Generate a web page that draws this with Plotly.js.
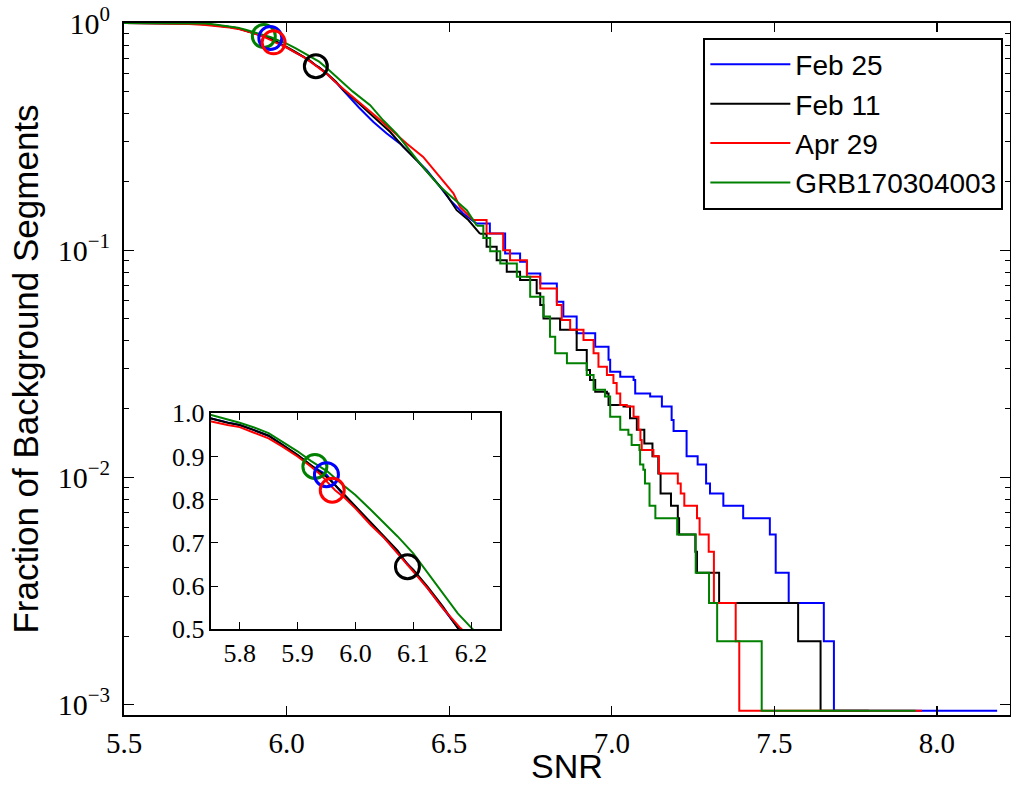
<!DOCTYPE html>
<html><head><meta charset="utf-8">
<script src="https://cdn.plot.ly/plotly-3.0.1.min.js"></script>
<style>html,body{margin:0;padding:0;background:#fff}</style>
</head><body><div id="chart" style="width:1011px;height:785px"></div>
<script>
const seriesNames = ['Feb 25', 'Feb 11', 'Apr 29', 'GRB170304003'];
const seriesColors = ['#0000ff', '#000000', '#ff0000', '#008000'];

const feb25Snr = [5.50,5.60,5.65,5.70,5.751,5.779,5.800,5.825,5.850,5.874,5.900,5.923,5.950,5.975,6.000,6.027,6.050,6.073,6.100,6.125,6.151,6.174,
  6.221,6.267,6.308,6.349,6.390,6.431,6.472,6.503,6.543,6.584,6.625,6.672,6.718,6.739,6.780,6.831,6.851,6.892,6.949,6.990,6.995,7.026,7.067,7.072,7.118,7.154,7.184,7.190,
  7.230,7.264,7.290,7.302,7.343,7.404,7.486,7.504,7.544,7.652,7.683,8.185];
const feb25Frac = [1.000,0.999,0.997,0.994,0.988,0.979,0.973,0.961,0.948,0.927,0.903,0.879,0.858,0.818,0.783,0.743,0.712,0.677,0.637,0.595,0.549,0.506,
  0.427,0.367,0.326,0.2946,0.2575,0.225,0.190,0.166,0.145,0.131,0.1185,0.0968,0.0889,0.0790,0.0714,0.0593,0.0510,0.0431,0.0376,0.0329,0.0292,0.0277,0.0268,0.0234,0.0227,0.0205,0.0179,0.0160,
  0.0124,0.0114,0.0094,0.0085,0.0075,0.0066,0.0056,0.0038,0.0028,0.0019,0.00094,0.00094];

const feb11Snr = [5.50,5.60,5.65,5.70,5.751,5.779,5.800,5.825,5.850,5.874,5.900,5.923,5.952,5.975,6.000,6.027,6.050,6.073,6.090,6.100,6.125,6.151,6.177,
  6.195,6.257,6.318,6.359,6.400,6.441,6.482,6.523,6.559,6.595,6.615,6.646,6.677,6.718,6.769,6.780,6.790,6.841,6.892,6.923,6.933,6.949,6.985,6.990,7.036,7.056,7.077,7.100,
  7.125,7.143,7.150,7.182,7.203,7.207,7.257,7.262,7.330,7.573,7.642,7.790];
const feb11Frac = [1.000,0.999,0.997,0.994,0.988,0.978,0.973,0.961,0.948,0.927,0.904,0.880,0.851,0.820,0.785,0.746,0.716,0.682,0.650,0.638,0.598,0.553,0.503,
  0.481,0.399,0.332,0.285,0.249,0.214,0.184,0.150,0.1357,0.1180,0.1035,0.0904,0.0804,0.0739,0.0646,0.0574,0.0501,0.0446,0.0364,0.0297,0.0268,0.0238,0.0234,0.0208,0.0205,0.0182,0.0162,0.0141,
  0.0124,0.0104,0.0085,0.0075,0.0066,0.0056,0.0047,0.0038,0.0028,0.0019,0.00094,0.00094];

const apr29Snr = [5.50,5.60,5.65,5.70,5.751,5.779,5.800,5.825,5.850,5.874,5.900,5.923,5.940,5.952,5.965,5.980,6.000,6.027,6.050,6.073,6.100,6.125,6.151,6.180,
  6.277,6.369,6.420,6.472,6.513,6.533,6.574,6.615,6.666,6.687,6.739,6.780,6.831,6.846,6.872,6.913,6.944,6.959,6.985,7.005,7.015,7.026,7.046,7.067,7.082,7.088,7.092,
  7.128,7.145,7.203,7.212,7.223,7.262,7.270,7.298,7.314,7.381,7.392,7.954];
const apr29Frac = [1.000,0.998,0.995,0.990,0.981,0.973,0.968,0.955,0.942,0.923,0.900,0.877,0.858,0.840,0.822,0.806,0.780,0.741,0.711,0.676,0.634,0.595,0.549,0.505,
  0.386,0.2946,0.2575,0.210,0.178,0.155,0.1357,0.1185,0.100,0.0904,0.0764,0.0679,0.0574,0.0493,0.0446,0.0402,0.0352,0.0307,0.0282,0.0260,0.0234,0.0208,0.0205,0.0185,0.0162,0.0146,0.0132,
  0.0124,0.0104,0.0094,0.0085,0.0075,0.0066,0.0056,0.0047,0.0028,0.0019,0.00094,0.00094];

const grbSnr = [5.50,5.60,5.65,5.70,5.751,5.779,5.800,5.825,5.850,5.874,5.900,5.923,5.952,5.975,6.000,6.027,6.050,6.073,6.100,6.125,6.151,6.177,6.203,
  6.257,6.297,6.338,6.374,6.410,6.441,6.472,6.513,6.554,6.585,6.605,6.626,6.657,6.708,6.749,6.790,6.810,6.826,6.862,6.923,6.944,6.979,6.995,7.026,7.051,7.061,7.085,
  7.087,7.097,7.102,7.116,7.134,7.201,7.258,7.299,7.324,7.461,7.934];
const grbFrac = [1.000,1.000,0.999,0.998,0.996,0.986,0.978,0.967,0.954,0.934,0.912,0.890,0.865,0.838,0.811,0.776,0.745,0.715,0.676,0.630,0.583,0.537,0.500,
  0.435,0.373,0.326,0.280,0.241,0.214,0.190,0.169,0.150,0.128,0.113,0.0990,0.0874,0.0764,0.0624,0.0510,0.0416,0.0352,0.0318,0.0282,0.0243,0.0227,0.0185,0.0162,0.0154,0.0139,0.0132,
  0.0114,0.0108,0.0094,0.0075,0.0066,0.0056,0.0038,0.0028,0.0019,0.00094,0.00094];

const seriesSnr = [feb25Snr, feb11Snr, apr29Snr, grbSnr];
const seriesFrac = [feb25Frac, feb11Frac, apr29Frac, grbFrac];
// SNR above which the read points are drawn as visible steps
const stepFrom = 6.6;

// on-source circles: Feb 25, Feb 11, Apr 29, GRB170304003
const markerSnr = [5.95, 6.09, 5.96, 5.93];
const markerFrac = [0.858, 0.645, 0.822, 0.877];
const markerOrder = [3, 0, 2, 1];

const mainTicks = [5.5, 6.0, 6.5, 7.0, 7.5, 8.0];
const mainTickText = ['5.5', '6.0', '6.5', '7.0', '7.5', '8.0'];
const logTicks = [0.001, 0.01, 0.1, 1];
const logTickText = ['10<sup>\u22123</sup>', '10<sup>\u22122</sup>', '10<sup>\u22121</sup>', '10<sup>0</sup>'];
const logMinor = [0.0009,0.002,0.003,0.004,0.005,0.006,0.007,0.008,0.009,0.02,0.03,0.04,0.05,0.06,0.07,0.08,0.09,0.2,0.3,0.4,0.5,0.6,0.7,0.8,0.9];
const insetXTicks = [5.8, 5.9, 6.0, 6.1, 6.2];
const insetXText = ['5.8', '5.9', '6.0', '6.1', '6.2'];
const insetYTicks = [0.5, 0.6, 0.7, 0.8, 0.9, 1.0];
const insetYText = ['0.5', '0.6', '0.7', '0.8', '0.9', '1.0'];

const traces = [];
function addSeries(i, xa, ya, legend) {
  const xs = seriesSnr[i], ys = seriesFrac[i];
  let k = 0;
  while (k + 1 < xs.length && xs[k + 1] <= stepFrom) k++;
  traces.push({x: xs.slice(0, k + 1), y: ys.slice(0, k + 1), type: 'scatter', mode: 'lines',
    line: {shape: 'linear', color: seriesColors[i], width: 2}, name: seriesNames[i], legendgroup: 'g' + i,
    showlegend: legend, xaxis: xa, yaxis: ya, hoverinfo: 'skip'});
  traces.push({x: xs.slice(k), y: ys.slice(k), type: 'scatter', mode: 'lines',
    line: {shape: 'hv', color: seriesColors[i], width: 2}, name: seriesNames[i], legendgroup: 'g' + i,
    showlegend: false, xaxis: xa, yaxis: ya, hoverinfo: 'skip'});
}
for (let i = 0; i < 4; i++) addSeries(i, 'x', 'y', true);
for (let i = 0; i < 4; i++) addSeries(i, 'x2', 'y2', false);
for (const ax of [['x', 'y', 23], ['x2', 'y2', 24]]) {
  for (const i of markerOrder) {
    traces.push({x: [markerSnr[i]], y: [markerFrac[i]], type: 'scatter', mode: 'markers', cliponaxis: false,
      marker: {symbol: 'circle-open', size: ax[2], color: seriesColors[i], line: {width: 3, color: seriesColors[i]}},
      showlegend: false, legendgroup: 'g' + i, xaxis: ax[0], yaxis: ax[1], hoverinfo: 'skip'});
  }
}

const frame = {showline: true, linecolor: 'black', linewidth: 2, mirror: 'allticks', ticks: 'inside', tickcolor: 'black',
  showgrid: false, zeroline: false};
const serif = {family: 'Liberation Serif, DejaVu Serif, serif', color: 'black'};
const sans = {family: 'Liberation Sans, Arial, sans-serif', color: 'black'};

const layout = {
  width: 1011, height: 785,
  margin: {l: 124, r: 1, t: 23, b: 70},
  paper_bgcolor: 'white', plot_bgcolor: 'white',
  showlegend: true,
  xaxis: Object.assign({}, frame, {range: [5.5, 8.2245], tickmode: 'array', tickvals: mainTicks, ticktext: mainTickText,
    ticklen: 9, tickwidth: 1.2, tickfont: Object.assign({size: 29}, serif), ticklabelstandoff: 1,
    title: {text: 'SNR', font: Object.assign({size: 34}, sans), standoff: 10}, automargin: false}),
  yaxis: Object.assign({}, frame, {type: 'log', range: [-3.046, 0], tickmode: 'array', tickvals: logTicks, ticktext: logTickText,
    ticklen: 10, tickwidth: 1.2, tickfont: Object.assign({size: 30}, serif), ticklabelstandoff: 6,
    minor: {tickmode: 'array', tickvals: logMinor, ticks: 'inside', ticklen: 5, tickwidth: 1, tickcolor: 'black', showgrid: false},
    title: {text: 'Fraction of Background Segments', font: Object.assign({size: 35}, sans), standoff: 8}, automargin: false}),
  xaxis2: Object.assign({}, frame, {domain: [0.0979, 0.4244], anchor: 'y2', range: [5.75, 6.25], tickmode: 'array',
    tickvals: insetXTicks, ticktext: insetXText, ticklen: 7, tickwidth: 1, tickfont: Object.assign({size: 26}, serif), ticklabelstandoff: -1, automargin: false}),
  yaxis2: Object.assign({}, frame, {domain: [0.1238, 0.436], anchor: 'x2', range: [0.5, 1.0], tickmode: 'array',
    tickvals: insetYTicks, ticktext: insetYText, ticklen: 7, tickwidth: 1, tickfont: Object.assign({size: 26}, serif), ticklabelstandoff: -1, automargin: false}),
  legend: {x: 0.9925, xanchor: 'right', y: 0.979, yanchor: 'top', bordercolor: 'black', borderwidth: 2, bgcolor: 'white',
    font: Object.assign({size: 28}, sans), itemwidth: 80, tracegroupgap: 0, traceorder: 'grouped'}
};

Plotly.newPlot('chart', traces, layout, {displayModeBar: false, staticPlot: true});
</script>
</body></html>
